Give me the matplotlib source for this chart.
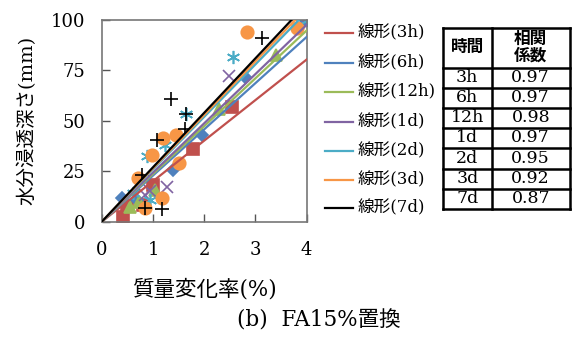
import matplotlib
matplotlib.use('Agg')
import matplotlib.pyplot as plt
from matplotlib.lines import Line2D

# --- data ---
series_names = ['3h', '6h', '12h', '1d', '2d', '3d', '7d']

x_3h = [0.42, 0.50, 0.81, 1.00, 1.79, 2.54]
y_3h = [2.5, 8.0, 8.3, 18.0, 35.9, 57.0]
x_6h = [0.39, 0.68, 1.40, 1.95, 2.80, 3.97]
y_6h = [11.6, 10.8, 25.6, 43.0, 71.9, 100.0]
x_12h = [0.55, 0.72, 1.04, 2.28, 3.41]
y_12h = [7.4, 10.0, 15.7, 55.7, 82.6]
x_1d = [0.84, 0.95, 1.27, 2.49, 3.97]
y_1d = [13.0, 15.0, 17.0, 72.4, 100.0]
x_2d = [0.60, 0.94, 0.88, 1.24, 1.64, 2.57, 4.00]
y_2d = [14.0, 10.7, 32.6, 38.0, 53.4, 81.8, 100.0]
x_3d = [0.85, 1.17, 0.71, 0.98, 1.20, 1.45, 1.50, 2.84, 3.82]
y_3d = [7.0, 11.6, 21.5, 33.0, 41.3, 43.0, 29.0, 93.9, 96.2]
x_7d = [0.84, 1.17, 0.78, 1.08, 1.35, 1.64, 1.63, 3.12]
y_7d = [6.6, 6.1, 23.2, 40.5, 60.7, 53.4, 45.8, 91.2]

# trendline slopes (through origin)
slopes = [20.1, 22.9, 23.7, 24.4, 26.0, 26.5, 27.0]
corr = ['0.97', '0.97', '0.98', '0.97', '0.95', '0.92', '0.87']

xs = [x_3h, x_6h, x_12h, x_1d, x_2d, x_3d, x_7d]
ys = [y_3h, y_6h, y_12h, y_1d, y_2d, y_3d, y_7d]

colors = ['#C0504D', '#4F81BD', '#9BBB59', '#8064A2', '#4BACC6', '#F79646', '#000000']
markers = ['s', 'D', '^', 'x', (6, 2, 0), 'o', '+']
msizes = [8.5, 6, 8.5, 8.5, 9.5, 9, 9.5]

FAM = ['DejaVu Serif', 'Noto Sans CJK JP']

fig = plt.figure(figsize=(5.72, 3.4), dpi=100)
ax = fig.add_axes([0.178, 0.348, 0.358, 0.593])

for x, y, c, m, ms in zip(xs, ys, colors, markers, msizes):
    ax.plot(x, y, linestyle='none', marker=m, color=c, markersize=ms,
            markeredgewidth=1.2, zorder=2)

for s, c in zip(slopes, colors):
    xe = min(4.0, 100.0 / s)
    ax.plot([0, xe], [0, s * xe], color=c, lw=1.6, zorder=3)

ax.set_xlim(0, 4)
ax.set_ylim(0, 100)
ax.set_xticks([0, 1, 2, 3, 4])
ax.set_yticks([0, 25, 50, 75, 100])
ax.tick_params(direction='in', length=6, width=1, colors='#555555',
               labelcolor='black')
ax.tick_params(axis='x', pad=14)
ax.tick_params(axis='y', pad=12)
for lab in ax.get_xticklabels() + ax.get_yticklabels():
    lab.set_family(FAM)
    lab.set_fontsize(13)
for sp in ax.spines.values():
    sp.set_color('#777777')
    sp.set_linewidth(1.2)

ax.set_xlabel('質量変化率(%)', family=FAM, fontsize=15.5, labelpad=14)
ax.set_ylabel('水分浸透深さ(mm)', family=FAM, fontsize=14, labelpad=10)

# legend drawn by hand
leg_y = [33, 63, 92, 122, 151, 180, 208]
for i, (n, c) in enumerate(zip(series_names, colors)):
    yy = 1 - leg_y[i] / 340
    fig.add_artist(Line2D([325 / 572, 353 / 572], [yy, yy], color=c, lw=1.6))
    fig.text(358 / 572, yy, '線形(' + n + ')', family=FAM, fontsize=12,
             va='center', ha='left')

# correlation table
tx0, tx1, tx2 = 443, 491.5, 570
row_edges = [27.7, 67.7, 88, 108, 128, 148, 168.5, 188.5, 208.5]

def fx(px):
    return px / 572

def fy(py):
    return 1 - py / 340

for r in row_edges:
    fig.add_artist(Line2D([fx(tx0), fx(tx2)], [fy(r), fy(r)], color='black', lw=1.8))
for cx in [tx0, tx1, tx2]:
    fig.add_artist(Line2D([fx(cx), fx(cx)], [fy(row_edges[0]), fy(row_edges[-1])],
                          color='black', lw=1.8))

hy = (row_edges[0] + row_edges[1]) / 2
fig.text(fx((tx0 + tx1) / 2), fy(hy), '時間', family=FAM, fontsize=12,
         fontweight='bold', ha='center', va='center')
fig.text(fx((tx1 + tx2) / 2), fy(hy), '相関\n係数', family=FAM, fontsize=12,
         fontweight='bold', ha='center', va='center', linespacing=1.0)
for i, (n, v) in enumerate(zip(series_names, corr)):
    cy = (row_edges[i + 1] + row_edges[i + 2]) / 2
    fig.text(fx((tx0 + tx1) / 2), fy(cy), n, family=FAM, fontsize=12.5,
             ha='center', va='center')
    fig.text(fx((tx1 + tx2) / 2), fy(cy), v, family=FAM, fontsize=12.5,
             ha='center', va='center')

fig.text(fx(319), fy(321), '(b)  FA15%置換', family=FAM, fontsize=15.5,
         ha='center', va='center')

fig.savefig('out.png', dpi=100)
